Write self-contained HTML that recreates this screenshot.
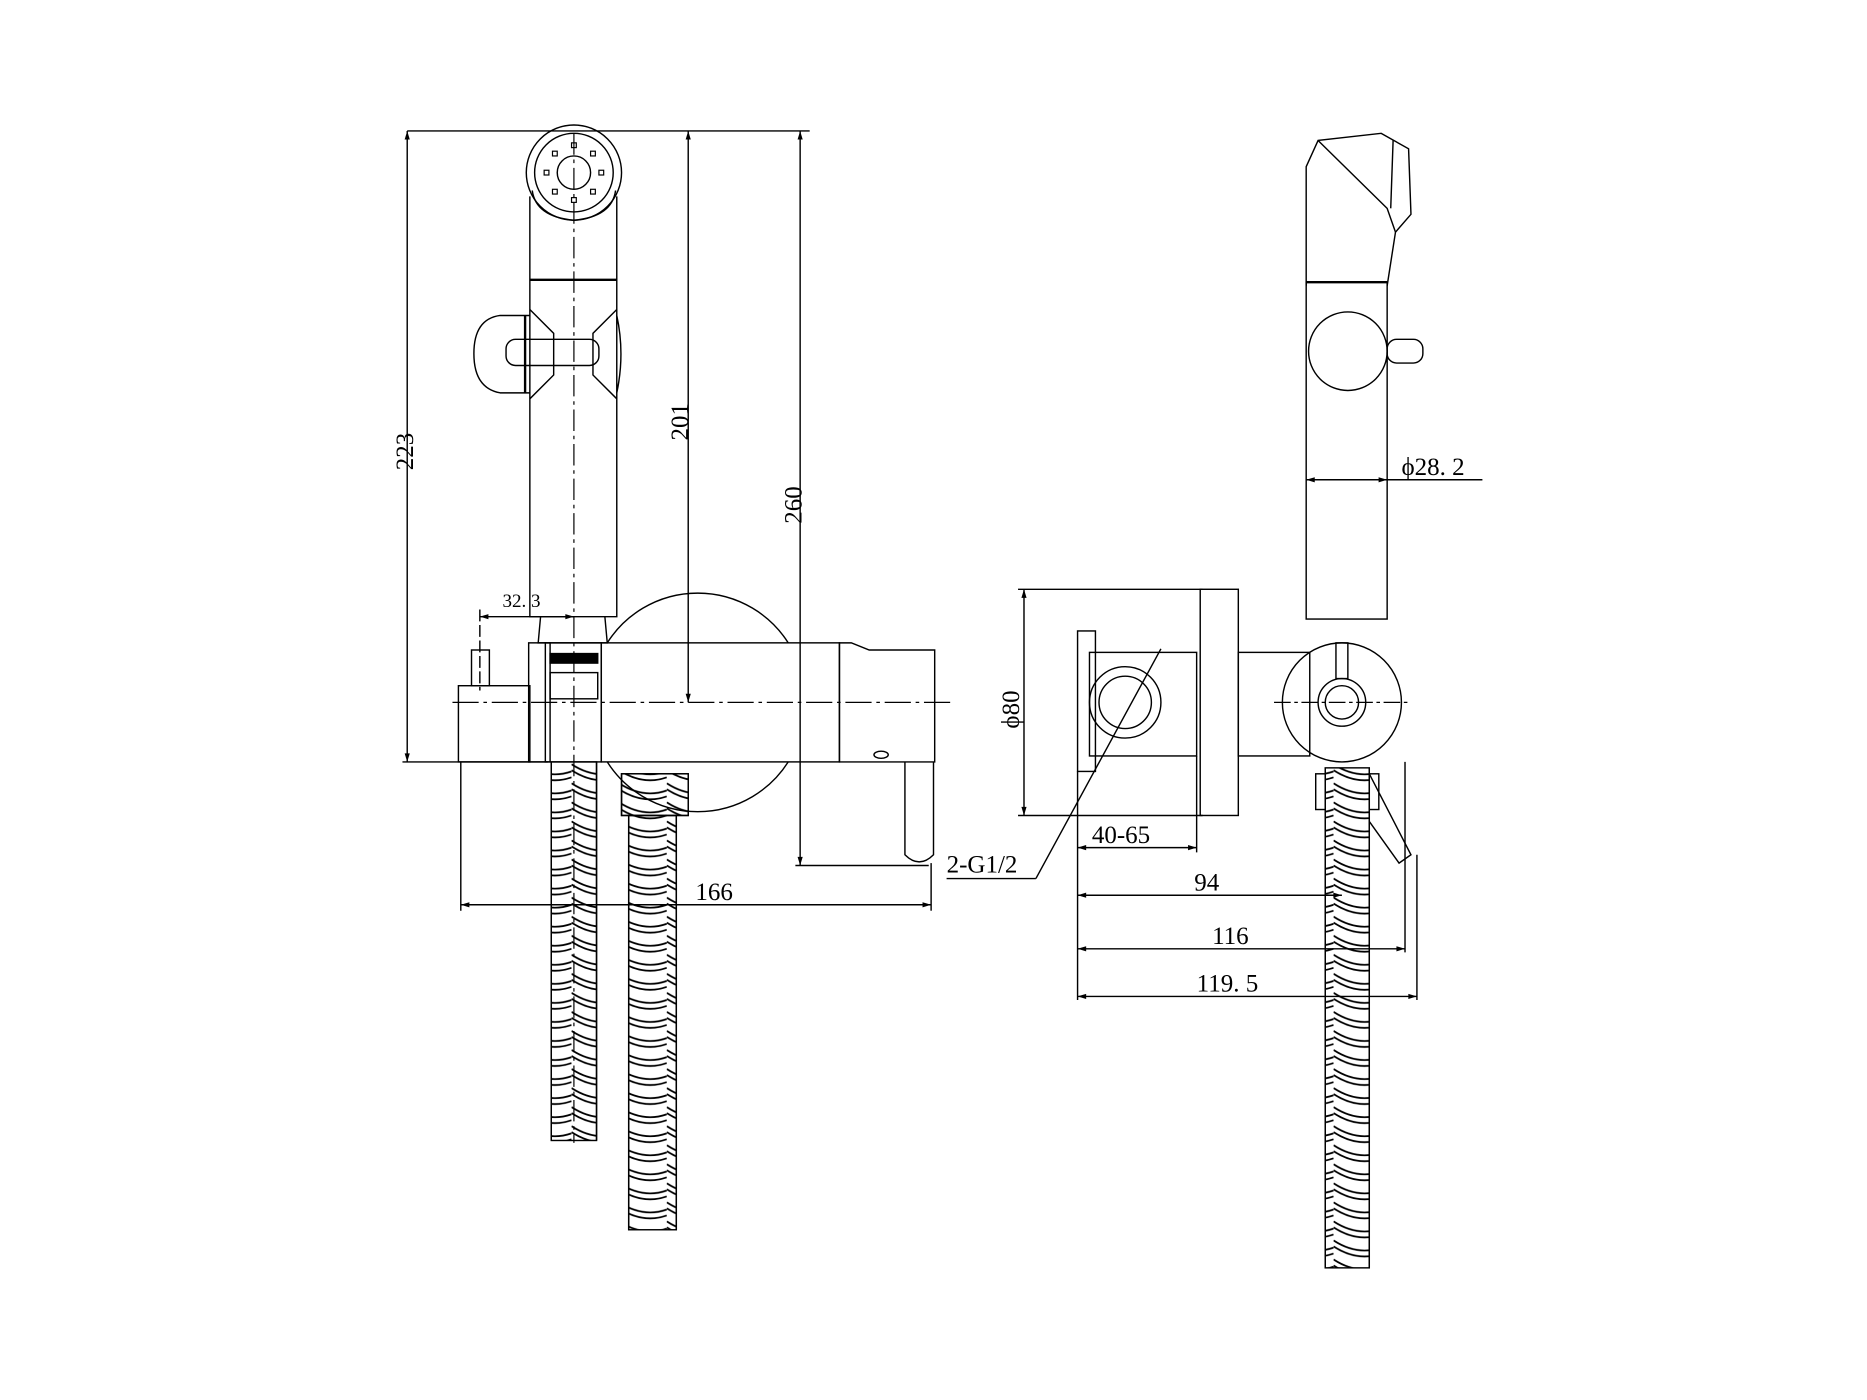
<!DOCTYPE html>
<html><head><meta charset="utf-8"><style>html,body{margin:0;padding:0;background:#fff}svg{display:block}</style></head>
<body>
<svg width="1867" height="1400" viewBox="0 0 1568 1176" preserveAspectRatio="none" xmlns="http://www.w3.org/2000/svg" font-family="Liberation Serif, serif" font-size="21" fill="none" stroke="#000" stroke-width="1.2">
<defs>
<marker id="a" viewBox="0 0 10 10" refX="10" refY="5" markerWidth="10" markerHeight="6" orient="auto-start-reverse"><path d="M0,2 L10,5 L0,8z" fill="#000" stroke="none"/></marker>
<pattern id="sp" width="40" height="16" patternUnits="userSpaceOnUse">
<path d="M0,2 Q20,15 40,8 M0,7 Q20,20 40,13 M0,-14 Q20,-1 40,-8 M0,-9 Q20,4 40,-3 M0,18 Q20,31 40,24" stroke="#000" stroke-width="1.5" fill="none"/>
</pattern>
</defs>
<line x1="342" y1="110" x2="680" y2="110"/>
<line x1="342" y1="110" x2="342" y2="640" marker-start="url(#a)" marker-end="url(#a)"/>
<line x1="338" y1="640" x2="460" y2="640"/>
<text transform="translate(347,395) rotate(-90)" fill="#000" stroke="none">223</text>
<line x1="578" y1="110" x2="578" y2="590" marker-start="url(#a)" marker-end="url(#a)"/>
<text transform="translate(578,370) rotate(-90)" fill="#000" stroke="none">201</text>
<line x1="672" y1="110" x2="672" y2="727" marker-start="url(#a)" marker-end="url(#a)"/>
<line x1="668" y1="727" x2="780" y2="727"/>
<text transform="translate(673,440) rotate(-90)" fill="#000" stroke="none">260</text>
<circle cx="482" cy="145" r="40"/><circle cx="482" cy="145" r="33"/><circle cx="482" cy="145" r="14"/>
<g fill="none" stroke-width="1">
<rect x="480" y="120" width="4" height="4"/><rect x="480" y="166" width="4" height="4"/><rect x="457" y="143" width="4" height="4"/><rect x="503" y="143" width="4" height="4"/>
<rect x="464" y="127" width="4" height="4"/><rect x="496" y="127" width="4" height="4"/><rect x="464" y="159" width="4" height="4"/><rect x="496" y="159" width="4" height="4"/>
</g>
<path d="M447,160 Q450,182 482,185 Q514,182 517,160"/>
<path d="M445,165 L445,518 L518,518 L518,165"/>
<line x1="445" y1="235" x2="518" y2="235" stroke-width="2"/>
<path d="M445,260 L465,280 L465,315 L445,335 M518,260 L498,280 L498,315 L518,335"/>
<path d="M445,265 L420,265 Q398,268 398,297 Q398,326 420,330 L445,330"/>
<line x1="441" y1="265" x2="441" y2="330" stroke-width="2"/>
<path d="M518,265 Q525,297 518,330"/>
<rect x="425" y="285" width="78" height="22" rx="8"/>
<line x1="482" y1="112" x2="482" y2="960" stroke-dasharray="18,4,3,4" stroke-width="1"/>
<line x1="380" y1="590" x2="800" y2="590" stroke-dasharray="22,4,3,4" stroke-width="1"/>
<line x1="403" y1="518" x2="482" y2="518" marker-start="url(#a)" marker-end="url(#a)"/>
<line x1="403" y1="512" x2="403" y2="580" stroke-dasharray="10,3"/>
<text x="422" y="510" font-size="16" fill="#000" stroke="none">32. 3</text>
<path d="M454,518 L452,540 L510,540 L508,518"/>
<rect x="444" y="540" width="18" height="100"/>
<rect x="458" y="540" width="47" height="100"/>
<rect x="462" y="549" width="40" height="8" fill="#000"/>
<rect x="462" y="565" width="40" height="22"/>
<path d="M510,540 A90,90 0 0 1 662,540 M510,640 A90,90 0 0 0 662,640"/>
<rect x="505" y="540" width="200" height="100"/>
<path d="M705,540 L715,540 L730,546 L785,546 L785,640 L705,640 L705,580 Z"/>
<path d="M760,640 L760,718 Q772,730 784,718 L784,640"/>
<ellipse cx="740" cy="634" rx="6" ry="3"/>
<rect x="385" y="576" width="60" height="64"/>
<rect x="396" y="546" width="15" height="30"/>
<line x1="387" y1="760" x2="782" y2="760" marker-start="url(#a)" marker-end="url(#a)"/>
<line x1="387" y1="640" x2="387" y2="765"/>
<line x1="782" y1="725" x2="782" y2="765"/>
<text x="584" y="756" fill="#000" stroke="none">166</text>
<rect x="463" y="640" width="38" height="318" fill="url(#sp)"/>
<path d="M463,640 L463,958 M501,640 L501,958"/>
<rect x="522" y="650" width="56" height="35" fill="url(#sp)"/>
<rect x="522" y="650" width="56" height="35"/>
<path d="M528,685 L528,1033 M568,685 L568,1033"/>
<rect x="528" y="685" width="40" height="348" fill="url(#sp)"/>
<path d="M1097,240 L1097,140 L1107,118 L1160,112 L1183,125 L1185,180 L1172,195 L1165,240"/>
<path d="M1107,118 L1165,175 L1172,195 M1170,118 L1168,175"/>
<rect x="1097" y="237" width="68" height="283"/>
<line x1="1097" y1="237" x2="1165" y2="237" stroke-width="2"/>
<circle cx="1132" cy="295" r="33"/>
<rect x="1165" y="285" width="30" height="20" rx="8"/>
<line x1="1097" y1="403" x2="1165" y2="403" marker-start="url(#a)" marker-end="url(#a)"/>
<line x1="1165" y1="403" x2="1245" y2="403"/>
<text x="1177" y="399" fill="#000" stroke="none">ϕ28. 2</text>
<rect x="1008" y="495" width="32" height="190"/>
<rect x="1040" y="548" width="60" height="87"/>
<circle cx="1127" cy="590" r="50"/>
<circle cx="1127" cy="590" r="20"/><circle cx="1127" cy="590" r="14"/>
<line x1="1070" y1="590" x2="1185" y2="590" stroke-dasharray="14,3,3,3" stroke-width="1"/>
<rect x="1122" y="540" width="10" height="30"/>
<line x1="860" y1="495" x2="860" y2="685" marker-start="url(#a)" marker-end="url(#a)"/>
<line x1="855" y1="495" x2="1010" y2="495"/><line x1="855" y1="685" x2="1010" y2="685"/>
<text transform="translate(856,612) rotate(-90)" fill="#000" stroke="none">ϕ80</text>
<rect x="905" y="530" width="15" height="118"/>
<rect x="915" y="548" width="90" height="87"/>
<circle cx="945" cy="590" r="30"/><circle cx="945" cy="590" r="22"/>
<line x1="975" y1="545" x2="870" y2="738"/>
<line x1="870" y1="738" x2="795" y2="738"/>
<text x="795" y="733" fill="#000" stroke="none">2-G1/2</text>
<line x1="905" y1="648" x2="905" y2="840"/>
<line x1="1005" y1="635" x2="1005" y2="716"/>
<line x1="905" y1="712" x2="1005" y2="712" marker-start="url(#a)" marker-end="url(#a)"/>
<text x="917" y="708" fill="#000" stroke="none">40-65</text>
<line x1="905" y1="752" x2="1127" y2="752" marker-start="url(#a)" marker-end="url(#a)"/>
<text x="1003" y="748" fill="#000" stroke="none">94</text>
<line x1="1180" y1="640" x2="1180" y2="800"/>
<line x1="905" y1="797" x2="1180" y2="797" marker-start="url(#a)" marker-end="url(#a)"/>
<text x="1018" y="793" fill="#000" stroke="none">116</text>
<line x1="1190" y1="718" x2="1190" y2="840"/>
<line x1="905" y1="837" x2="1190" y2="837" marker-start="url(#a)" marker-end="url(#a)"/>
<text x="1005" y="833" fill="#000" stroke="none">119. 5</text>
<rect x="1113" y="645" width="37" height="420" fill="url(#sp)"/>
<path d="M1113,645 L1113,1065 M1150,645 L1150,1065"/>
<path d="M1150,650 L1185,718 L1175,725 L1150,690"/>
<rect x="1105" y="650" width="8" height="30"/><rect x="1150" y="650" width="8" height="30"/>
</svg>
</body></html>
